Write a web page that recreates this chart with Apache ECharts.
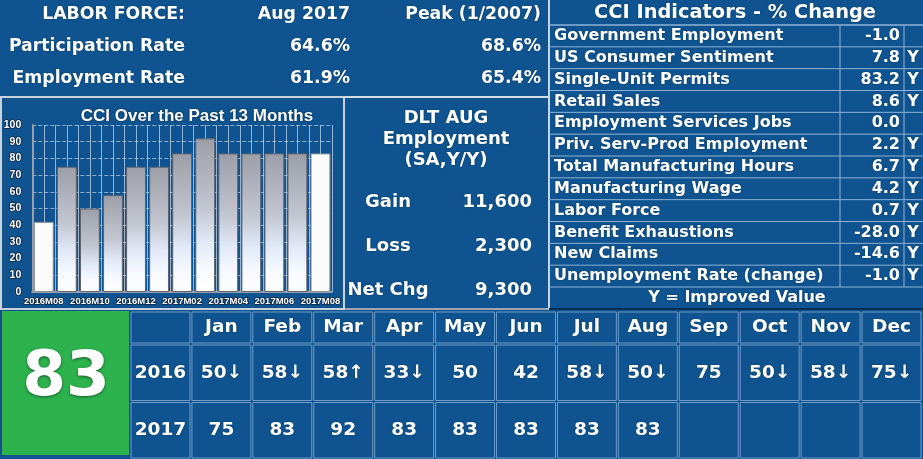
<!DOCTYPE html>
<html>
<head>
<meta charset="utf-8">
<script src="https://cdn.jsdelivr.net/npm/echarts@6/dist/echarts.min.js"></script>
<style>
  html, body { margin: 0; padding: 0; background: #0f5490; }
  #main { width: 923px; height: 459px; }
</style>
</head>
<body>
<div id="main"></div>
<script>
const FONT = '"DejaVu Sans", Verdana, sans-serif';
const CHART_FONT = '"Liberation Sans", Arial, sans-serif';
const BG = '#0f5490';
const LINE = '#8fb2d4';

// ── data ──────────────────────────────────────────────────────────────────────
const LABOR_HEAD = ['LABOR FORCE:', 'Aug 2017', 'Peak (1/2007)'];
const LABOR_ROWS = ['Participation Rate', 'Employment Rate'];
const LABOR_NOW = ['64.6%', '61.9%'];
const LABOR_PEAK = ['68.6%', '65.4%'];

const CCI_MONTHS = ['2016M08', '2016M09', '2016M10', '2016M11', '2016M12', '2017M01', '2017M02',
    '2017M03', '2017M04', '2017M05', '2017M06', '2017M07', '2017M08'];
const CCI_VALUES = [42, 75, 50, 58, 75, 75, 83, 92, 83, 83, 83, 83, 83];

const DLT_TITLE = ['DLT AUG', 'Employment', '(SA,Y/Y)'];
const DLT_LABELS = ['Gain', 'Loss', 'Net Chg'];
const DLT_VALUES = ['11,600', '2,300', '9,300'];

const INDICATOR_NAMES = ['Government Employment', 'US Consumer Sentiment', 'Single-Unit Permits', 'Retail Sales',
    'Employment Services Jobs', 'Priv. Serv-Prod Employment', 'Total Manufacturing Hours', 'Manufacturing Wage',
    'Labor Force', 'Benefit Exhaustions', 'New Claims', 'Unemployment Rate (change)'];
const INDICATOR_CHANGES = [-1.0, 7.8, 83.2, 8.6, 0.0, 2.2, 6.7, 4.2, 0.7, -28.0, -14.6, -1.0];
const INDICATOR_IMPROVED = ['', 'Y', 'Y', 'Y', '', 'Y', 'Y', 'Y', 'Y', 'Y', 'Y', 'Y'];

const CURRENT_CCI = 83;
const MONTHS = ['Jan', 'Feb', 'Mar', 'Apr', 'May', 'Jun', 'Jul', 'Aug', 'Sep', 'Oct', 'Nov', 'Dec'];
const YEARS = ['2016', '2017'];
const CCI_2016 = [50, 58, 58, 33, 50, 42, 58, 50, 75, 50, 58, 75];
const TREND_2016 = ['↓', '↓', '↑', '↓', '', '', '↓', '↓', '', '↓', '↓', '↓'];
const CCI_2017 = [75, 83, 92, 83, 83, 83, 83, 83, null, null, null, null];

// ── helpers ───────────────────────────────────────────────────────────────────
function font(size, family = FONT) {
    return 'bold ' + size + 'px ' + family;
}

function txt(text, x, y, size, align = 'center', extra = {}) {
    return {
        type: 'text', x, y, silent: true,
        style: {
            text, fill: '#fff', font: font(size), align, verticalAlign: 'middle',
            textShadowColor: 'rgba(0,0,0,0.35)', textShadowBlur: 2, ...extra,
        },
    };
}

function hline(x1, x2, y, color = LINE, w = 1) {
    return { type: 'line', silent: true, shape: { x1, y1: y, x2, y2: y }, style: { stroke: color, lineWidth: w } };
}

function vline(x, y1, y2, color = LINE, w = 1) {
    return { type: 'line', silent: true, shape: { x1: x, y1, x2: x, y2 }, style: { stroke: color, lineWidth: w } };
}

// ── static text panels ────────────────────────────────────────────────────────
const graphics = [];

const laborCols = [185, 350, 541];
const laborRows = [15, 47, 79];
LABOR_HEAD.forEach((t, i) => graphics.push(txt(t, laborCols[i], laborRows[0], 17.3, 'right')));
LABOR_ROWS.forEach((t, r) => {
    graphics.push(txt(t, laborCols[0], laborRows[r + 1], 17.3, 'right'));
    graphics.push(txt(LABOR_NOW[r], laborCols[1], laborRows[r + 1], 17.3, 'right'));
    graphics.push(txt(LABOR_PEAK[r], laborCols[2], laborRows[r + 1], 17.3, 'right'));
});

// chart panel frame
graphics.push({ type: 'rect', silent: true, shape: { x: 1, y: 97, width: 343, height: 212 },
    style: { fill: 'none', stroke: '#c9d3de', lineWidth: 2 } });
graphics.push(txt('CCI Over the Past 13 Months', 197, 116, 17, 'center',
    { font: font(17, CHART_FONT), textShadowColor: 'rgba(0,0,0,0.6)' }));

// DLT panel
graphics.push(hline(345, 548, 97, '#d4dde7', 2));
graphics.push(hline(345, 548, 309, '#9aa7b4', 2));
DLT_TITLE.forEach((t, i) => graphics.push(txt(t, 446, 118 + i * 21, 18)));
DLT_LABELS.forEach((t, i) => {
    graphics.push(txt(t, 388, 202 + i * 44, 18));
    graphics.push(txt(DLT_VALUES[i], 532, 202 + i * 44, 18, 'right'));
});

// indicators table frame
graphics.push(vline(549, 0, 310, '#c9d6e3', 2));
graphics.push(hline(549, 923, 25, LINE));
graphics.push(hline(549, 923, 287, LINE));
graphics.push(hline(549, 923, 309, '#0a2f55', 2));
graphics.push(txt('CCI Indicators - % Change', 735, 13, 19.4));
graphics.push(txt('Y = Improved Value', 737, 298, 16));

// current CCI box
graphics.push({ type: 'rect', silent: true, shape: { x: 2, y: 311, width: 127, height: 144 },
    style: { fill: '#2db34e' } });
graphics.push(txt(String(CURRENT_CCI), 66, 379, 63, 'center',
    { textShadowColor: 'rgba(0,0,0,0.5)', textShadowBlur: 3, textShadowOffsetY: 1 }));

// ── table renderers ───────────────────────────────────────────────────────────
function renderIndicatorRow(params, api) {
    const cs = params.coordSys;
    const row = api.value(1);
    const cy = api.coord([0, row])[1];
    const h = api.size([0, 1])[1];
    const top = cy - h / 2;
    const colVal = cs.x + 291;
    const colY = cs.x + 355;
    const i = params.dataIndex;
    const children = [
        hline(cs.x, cs.x + cs.width, top),
        vline(colVal, top, top + h),
        vline(colY, top, top + h),
        txt(INDICATOR_NAMES[i], cs.x + 5, cy, 16, 'left'),
        txt(INDICATOR_CHANGES[i].toFixed(1), colY - 4, cy, 16, 'right'),
        txt(INDICATOR_IMPROVED[i], colY + 9, cy, 16),
    ];
    return { type: 'group', children };
}

function cellLabels(row) {
    if (row === 0) return [YEARS[0]].concat(CCI_2016.map((v, i) => v + TREND_2016[i]));
    return [YEARS[1]].concat(CCI_2017.map(v => (v == null ? '' : String(v))));
}

const BODY_TEXT = [cellLabels(0), cellLabels(1)];
const HEAD_TEXT = [''].concat(MONTHS);

function makeCellRenderer(lookup) {
    return function (params, api) {
        const col = api.value(0);
        const row = api.value(1);
        const c = api.coord([col, row]);
        const s = api.size([1, 1]);
        return {
            type: 'group',
            children: [
                { type: 'rect', silent: true,
                    shape: { x: c[0] - s[0] / 2 + 1, y: c[1] - s[1] / 2 + 1, width: s[0] - 2, height: s[1] - 2 },
                    style: { fill: 'none', stroke: '#6f9bc6', lineWidth: 1 } },
                txt(lookup(row, col), c[0], c[1], 18.5),
            ],
        };
    };
}

const headData = HEAD_TEXT.map((_, c) => [c, 0]);
const bodyData = [];
BODY_TEXT.forEach((r, ri) => r.forEach((_, c) => bodyData.push([c, ri])));

// ── bar chart ─────────────────────────────────────────────────────────────────
const greyBar = {
    color: { type: 'linear', x: 0, y: 0, x2: 0, y2: 1, colorStops: [
        { offset: 0, color: '#9c9ea7' }, { offset: 0.45, color: '#c2c6d1' },
        { offset: 0.68, color: '#e2eaf7' }, { offset: 0.85, color: '#f6f9fe' }, { offset: 1, color: '#ffffff' }] },
    borderColor: '#5f6470', borderWidth: 1,
};
const whiteBar = { color: '#fbfbfb', borderColor: '#8a8f99', borderWidth: 1 };
const barData = CCI_VALUES.map((v, i) => ({
    value: v,
    itemStyle: (i === 0 || i === CCI_VALUES.length - 1) ? whiteBar : greyBar,
}));

const axisText = { color: '#fff', fontFamily: CHART_FONT, fontWeight: 'bold', textBorderColor: '#0a2540', textBorderWidth: 1.5 };

const chart = echarts.init(document.getElementById('main'), null, { renderer: 'canvas' });
chart.setOption({
    backgroundColor: BG,
    animation: false,
    grid: [
        { left: 32, top: 125, width: 300, height: 167 },
        { left: 549, top: 25, width: 374, height: 262 },
        { left: 130, top: 311, width: 792, height: 33 },
        { left: 130, top: 344, width: 792, height: 115 },
    ],
    xAxis: [
        { gridIndex: 0, type: 'category', data: CCI_MONTHS,
            axisTick: { show: false },
            axisLine: { lineStyle: { color: '#9b9ea6', width: 2 } },
            axisLabel: { ...axisText, fontSize: 9.5, interval: 1, margin: 4, hideOverlap: false },
            splitLine: { show: false } },
        { gridIndex: 0, type: 'value', min: 0, max: CCI_VALUES.length * 2, interval: 1, position: 'top',
            axisLine: { show: false }, axisTick: { show: false }, axisLabel: { show: false },
            splitLine: { show: true, lineStyle: { color: 'rgba(205,222,240,0.7)', width: 1 } } },
        { gridIndex: 1, type: 'value', min: 0, max: 1, show: false },
        { gridIndex: 2, type: 'category', data: HEAD_TEXT, show: false },
        { gridIndex: 3, type: 'category', data: HEAD_TEXT, show: false },
    ],
    yAxis: [
        { gridIndex: 0, type: 'value', min: 0, max: 100, interval: 10,
            axisLine: { show: true, lineStyle: { color: '#9b9ea6', width: 2 } },
            axisTick: { show: false },
            axisLabel: { ...axisText, fontSize: 10.5, margin: 11 },
            splitLine: { lineStyle: { color: 'rgba(190,212,236,0.7)', type: 'dashed' } } },
        { gridIndex: 1, type: 'category', data: INDICATOR_NAMES, inverse: true, show: false },
        { gridIndex: 2, type: 'category', data: ['head'], show: false },
        { gridIndex: 3, type: 'category', data: YEARS, inverse: true, show: false },
    ],
    series: [
        { type: 'bar', xAxisIndex: 0, yAxisIndex: 0, data: barData, barCategoryGap: '14%', z: 3 },
        { type: 'custom', xAxisIndex: 2, yAxisIndex: 1, data: INDICATOR_NAMES.map((_, i) => [0, i]),
            renderItem: renderIndicatorRow },
        { type: 'custom', xAxisIndex: 3, yAxisIndex: 2, data: headData,
            renderItem: makeCellRenderer((r, c) => HEAD_TEXT[c]) },
        { type: 'custom', xAxisIndex: 4, yAxisIndex: 3, data: bodyData,
            renderItem: makeCellRenderer((r, c) => BODY_TEXT[r][c]) },
    ],
    graphic: graphics,
});

window.addEventListener('resize', () => chart.resize());
</script>
</body>
</html>
